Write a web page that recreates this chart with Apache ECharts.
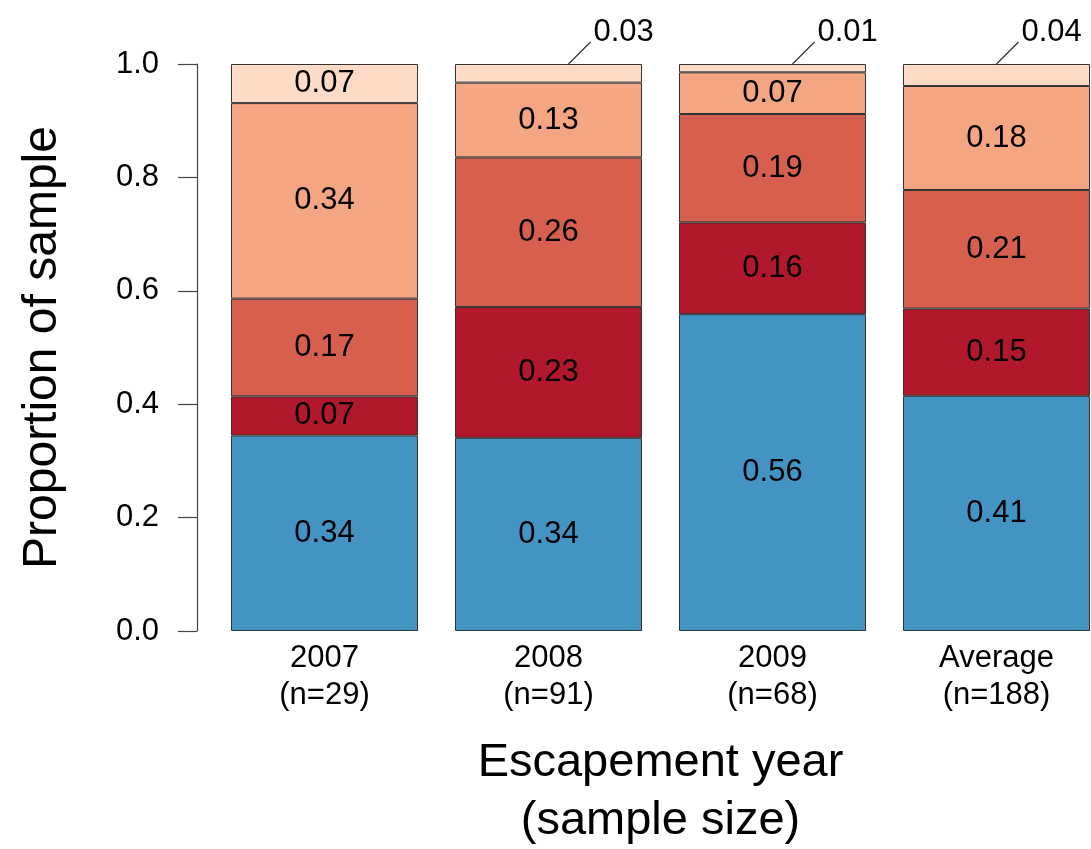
<!DOCTYPE html>
<html>
<head>
<meta charset="utf-8">
<script src="https://cdn.jsdelivr.net/npm/echarts@6/dist/echarts.min.js"></script>
<style>
  html, body { margin: 0; padding: 0; background: #fff; }
  #chart { width: 1091px; height: 849px; }
</style>
</head>
<body>
<div id="chart"></div>
<script>
// Escapement years and their sample sizes
const years = ['2007', '2008', '2009', 'Average'];
const sampleSizes = [29, 91, 68, 188];

// Proportion of each sample in each group (stacked bottom to top)
const shareBlue = [0.3448, 0.3407, 0.5588, 0.4148];
const shareDarkRed = [0.0690, 0.2308, 0.1618, 0.1539];
const shareRed = [0.1724, 0.2637, 0.1912, 0.2091];
const shareSalmon = [0.3448, 0.1319, 0.0735, 0.1834];
const sharePale = [0.0690, 0.0329, 0.0147, 0.0388];

// Y axis ticks
const yTickValues = [0, 0.2, 0.4, 0.6, 0.8, 1.0];

const groups = [
  { data: shareBlue, color: '#4393C3' },
  { data: shareDarkRed, color: '#B2182B' },
  { data: shareRed, color: '#D6604D' },
  { data: shareSalmon, color: '#F4A582' },
  { data: sharePale, color: '#FDDBC7' }
];

// Segments thinner than this get their label outside with a leader line
const smallShare = 0.05;
// Horizontal shift of the leader line start from the bar centre (px)
const leaderShift = [0, 20, 20, 0];

const FONT = '"Liberation Sans", Arial, Helvetica, sans-serif';
const categories = years.map((y, i) => y + '\n(n=' + sampleSizes[i] + ')');

const barSeries = groups.map((g, gi) => ({
  type: 'bar',
  stack: 'total',
  barWidth: 187,
  itemStyle: { color: g.color, borderColor: '#333', borderWidth: 1 },
  label: {
    show: true,
    position: 'inside',
    color: '#000',
    fontSize: 31,
    fontFamily: FONT,
    formatter: p => p.value.toFixed(2)
  },
  data: g.data.map(v => ({ value: v, label: { show: v >= smallShare } })),
  z: 2
}));

// Top segments that are too thin for an inside label
const topIndex = groups.length - 1;
const leaderData = [];
years.forEach((y, i) => {
  const v = groups[topIndex].data[i];
  if (v < smallShare) {
    const total = groups.reduce((s, g) => s + g.data[i], 0);
    leaderData.push([i, total, v]);
  }
});

const leaderSeries = {
  type: 'custom',
  clip: false,
  z: 5,
  encode: { x: 0, y: 1 },
  data: leaderData,
  renderItem: (params, api) => {
    const idx = api.value(0);
    const p = api.coord([idx, api.value(1)]);
    const sx = p[0] + leaderShift[idx];
    const ex = sx + 22, ey = p[1] - 22;
    return {
      type: 'group',
      children: [
        {
          type: 'line',
          shape: { x1: sx, y1: p[1], x2: ex, y2: ey },
          style: { stroke: '#333', lineWidth: 1.2 }
        },
        {
          type: 'text',
          style: {
            x: ex + 3, y: ey - 10,
            text: api.value(2).toFixed(2),
            fill: '#000',
            font: '31px ' + FONT,
            textAlign: 'left',
            textVerticalAlign: 'middle'
          }
        }
      ]
    };
  }
};

const chart = echarts.init(document.getElementById('chart'), null, { renderer: 'canvas' });
chart.setOption({
  animation: false,
  backgroundColor: '#fff',
  grid: {
    left: 212.5, top: 64, width: 896, height: 567,
    containLabel: false, outerBoundsMode: 'none'
  },
  xAxis: {
    type: 'category',
    data: categories,
    boundaryGap: true,
    axisLine: { show: false },
    axisTick: { show: false },
    axisLabel: {
      color: '#000', fontSize: 31, fontFamily: FONT, lineHeight: 37,
      margin: 9, interval: 0
    },
    name: 'Escapement year\n(sample size)',
    nameLocation: 'middle',
    nameGap: 103,
    nameTextStyle: { color: '#000', fontSize: 47, fontFamily: FONT, lineHeight: 58 }
  },
  yAxis: {
    type: 'value',
    min: 0, max: 1, interval: 0.2,
    offset: 15.5,
    splitLine: { show: false },
    axisLine: { show: true, lineStyle: { color: '#444', width: 1.2 } },
    axisTick: { show: true, length: 19, lineStyle: { color: '#444', width: 1.2 },
      customValues: yTickValues },
    axisLabel: {
      color: '#000', fontSize: 31, fontFamily: FONT, margin: 38,
      customValues: yTickValues,
      formatter: v => v.toFixed(1)
    },
    name: 'Proportion of sample',
    nameLocation: 'middle',
    nameGap: 130,
    nameTextStyle: { color: '#000', fontSize: 48, fontFamily: FONT }
  },
  series: barSeries.concat([leaderSeries])
});
</script>
</body>
</html>
